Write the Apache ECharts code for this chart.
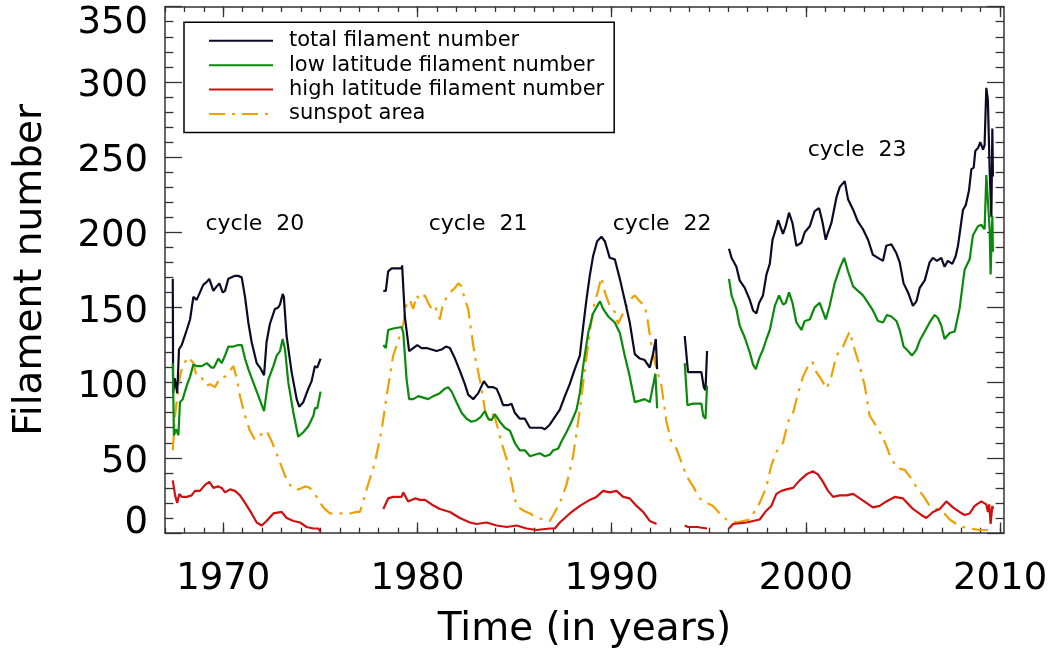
<!DOCTYPE html>
<html>
<head>
<meta charset="utf-8">
<script src="https://cdn.jsdelivr.net/npm/echarts@6/dist/echarts.min.js"></script>
<style>
html,body{margin:0;padding:0;background:#fff;}
#chart{width:1054px;height:654px;}
</style>
</head>
<body>
<div id="chart"></div>
<script>
// ---------- data (year, value); null marks a data gap ----------
const totalFil = [
[1967.40,169],[1967.42,93],[1967.50,103],[1967.57,103],[1967.63,93],[1967.72,122],[1967.86,125],[1967.94,124],[1968.12,135],[1968.29,142],[1968.46,157],[1968.63,155],[1968.80,160],[1968.97,165],[1969.15,167],[1969.28,169],[1969.49,161],[1969.66,164],[1969.80,166],[1969.97,160],[1970.09,161],[1970.26,169],[1970.43,170],[1970.60,171],[1970.77,171],[1970.95,170],[1971.12,157],[1971.29,140],[1971.46,127],[1971.72,113],[1971.89,110],[1972.10,105],[1972.23,127],[1972.40,139],[1972.66,149],[1972.83,150],[1972.92,152],[1973.06,159],[1973.12,157],[1973.26,131],[1973.52,107],[1973.78,89],[1973.91,84],[1974.12,87],[1974.38,96],[1974.55,101],[1974.72,111],[1974.84,110],[1975.01,116],
[1976.5,null],
[1978.24,161],[1978.37,161],[1978.49,174],[1978.67,176],[1978.92,176],[1979.18,176],[1979.21,178],[1979.35,144],[1979.57,121],[1979.78,123],[1979.99,125],[1980.21,123],[1980.47,123],[1980.73,122],[1980.98,121],[1981.24,122],[1981.46,124],[1981.67,123],[1981.93,116],[1982.18,108],[1982.44,99],[1982.61,92],[1982.87,89],[1983.13,93],[1983.42,101],[1983.64,97],[1983.90,97],[1984.07,96],[1984.24,91],[1984.41,85],[1984.67,85],[1984.84,86],[1985.01,80],[1985.27,76],[1985.53,76],[1985.79,70],[1986.13,70],[1986.39,70],[1986.56,69],[1986.81,72],[1987.07,77],[1987.33,82],[1987.59,91],[1987.84,99],[1988.10,109],[1988.36,118],[1988.53,137],[1988.70,155],[1988.87,171],[1989.04,184],[1989.25,194],[1989.47,197],[1989.65,194],[1989.90,183],[1990.16,182],[1990.42,169],[1990.67,155],[1990.93,140],[1991.19,119],[1991.45,116],[1991.70,115],[1991.96,110],[1992.13,119],[1992.27,129],[1992.34,109],
[1993.0,null],
[1993.76,131],[1993.93,107],[1994.20,107],[1994.62,107],[1994.74,97],[1994.83,95],[1994.91,121],
[1995.5,null],
[1996.04,189],[1996.17,183],[1996.25,184],[1996.42,177],[1996.59,168],[1996.85,163],[1997.11,155],[1997.28,148],[1997.45,146],[1997.59,153],[1997.79,158],[1997.97,172],[1998.14,179],[1998.28,195],[1998.45,202],[1998.57,208],[1998.66,207],[1998.82,199],[1998.96,204],[1999.13,213],[1999.31,206],[1999.51,191],[1999.77,193],[1999.94,200],[2000.20,204],[2000.45,214],[2000.68,216],[2000.85,207],[2001.02,195],[2001.14,200],[2001.31,206],[2001.57,223],[2001.74,230],[2002.00,234],[2002.17,222],[2002.43,215],[2002.68,207],[2002.94,202],[2003.20,195],[2003.45,185],[2003.71,183],[2003.97,181],[2004.14,191],[2004.40,192],[2004.66,186],[2004.83,180],[2005.03,166],[2005.26,160],[2005.51,151],[2005.69,154],[2005.86,163],[2006.12,168],[2006.37,180],[2006.54,183],[2006.75,181],[2006.97,183],[2007.14,177],[2007.31,181],[2007.54,179],[2007.71,184],[2007.83,191],[2007.97,204],[2008.09,215],[2008.23,218],[2008.40,228],[2008.52,242],[2008.64,243],[2008.72,254],[2008.86,256],[2008.98,260],[2009.12,255],[2009.20,258],[2009.29,296],[2009.37,288],[2009.46,242],[2009.55,210],[2009.60,269],[2009.63,237]
];

const lowLatFil = [
[1967.40,113],[1967.46,65],[1967.57,69],[1967.69,65],[1967.77,87],[1967.91,89],[1968.12,98],[1968.29,104],[1968.46,112],[1968.63,111],[1968.89,111],[1969.15,113],[1969.40,110],[1969.52,110],[1969.75,116],[1969.92,113],[1970.09,118],[1970.26,124],[1970.52,124],[1970.77,125],[1970.95,125],[1971.12,116],[1971.29,109],[1971.55,100],[1971.81,91],[1972.10,81],[1972.32,102],[1972.58,111],[1972.75,118],[1972.92,121],[1973.06,129],[1973.18,122],[1973.35,100],[1973.61,80],[1973.86,64],[1974.12,67],[1974.38,71],[1974.64,78],[1974.72,83],[1974.84,83],[1975.01,94],
[1976.5,null],
[1978.24,125],[1978.37,123],[1978.49,135],[1978.75,136],[1979.18,137],[1979.27,133],[1979.44,102],[1979.57,89],[1979.78,89],[1980.04,91],[1980.30,90],[1980.55,89],[1980.81,91],[1981.15,93],[1981.41,96],[1981.58,97],[1981.76,94],[1982.01,87],[1982.27,80],[1982.53,76],[1982.78,74],[1983.04,75],[1983.25,77],[1983.47,81],[1983.64,76],[1983.81,75],[1983.98,79],[1984.24,74],[1984.50,70],[1984.76,68],[1985.01,60],[1985.27,55],[1985.53,55],[1985.79,51],[1986.04,52],[1986.30,53],[1986.56,51],[1986.81,52],[1986.99,55],[1987.24,56],[1987.42,61],[1987.67,67],[1987.93,74],[1988.19,82],[1988.36,93],[1988.53,111],[1988.79,133],[1989.04,146],[1989.30,152],[1989.40,154],[1989.56,149],[1989.82,144],[1990.16,140],[1990.42,133],[1990.67,118],[1990.93,104],[1991.19,87],[1991.45,88],[1991.70,89],[1991.96,87],[1992.13,98],[1992.25,106],[1992.34,83],
[1993.0,null],
[1993.76,113],[1993.90,85],[1994.20,86],[1994.62,86],[1994.71,78],[1994.83,76],[1994.91,98],
[1995.5,null],
[1996.04,169],[1996.17,158],[1996.25,157],[1996.42,149],[1996.59,138],[1996.85,130],[1997.11,120],[1997.28,112],[1997.42,109],[1997.59,116],[1997.79,122],[1997.97,129],[1998.14,135],[1998.40,151],[1998.62,158],[1998.82,152],[1998.96,153],[1999.13,160],[1999.31,153],[1999.51,140],[1999.77,135],[1999.94,141],[2000.20,142],[2000.45,150],[2000.71,153],[2000.88,147],[2001.02,142],[2001.22,151],[2001.48,166],[2001.74,176],[2001.97,183],[2002.17,174],[2002.43,164],[2002.68,161],[2002.94,158],[2003.20,153],[2003.45,148],[2003.71,141],[2003.97,140],[2004.17,145],[2004.40,144],[2004.66,141],[2004.83,135],[2005.03,124],[2005.26,121],[2005.46,118],[2005.69,122],[2005.86,128],[2006.12,134],[2006.37,140],[2006.63,145],[2006.80,143],[2006.97,138],[2007.14,129],[2007.40,133],[2007.66,134],[2007.91,149],[2008.17,175],[2008.43,182],[2008.60,198],[2008.86,204],[2009.03,205],[2009.20,202],[2009.29,238],[2009.37,238],[2009.46,202],[2009.51,172],[2009.60,211],[2009.63,187]
];

const highLatFil = [
[1967.40,35],[1967.52,25],[1967.63,20],[1967.74,26],[1967.86,24],[1968.12,24],[1968.37,25],[1968.54,28],[1968.80,28],[1969.06,32],[1969.28,34],[1969.49,30],[1969.75,31],[1969.92,30],[1970.09,27],[1970.35,29],[1970.60,28],[1970.86,25],[1971.12,20],[1971.46,13],[1971.72,7],[1971.98,5],[1972.23,8],[1972.58,13],[1973.01,14],[1973.26,10],[1973.61,8],[1973.95,7],[1974.29,4],[1974.64,3],[1974.89,3],[1975.01,1],
[1976.5,null],
[1978.24,16],[1978.49,23],[1978.75,24],[1979.18,24],[1979.27,27],[1979.52,21],[1979.87,23],[1980.13,22],[1980.38,22],[1980.73,19],[1981.15,16],[1981.67,14],[1982.18,10],[1982.70,7],[1983.04,6],[1983.56,7],[1984.07,5],[1984.59,4],[1985.10,5],[1985.62,3],[1986.13,2],[1986.81,3],[1987.07,3],[1987.33,7],[1987.84,13],[1988.36,18],[1988.87,22],[1989.21,24],[1989.56,28],[1989.90,27],[1990.25,28],[1990.59,24],[1990.93,23],[1991.28,18],[1991.62,14],[1991.96,8],[1992.31,6],
[1993.0,null],
[1993.76,5],[1993.93,4],[1994.40,4],[1994.91,3],
[1995.5,null],
[1996.04,3],[1996.25,6],[1996.94,7],[1997.62,9],[1997.97,15],[1998.22,18],[1998.48,26],[1998.74,28],[1999.00,29],[1999.34,30],[1999.68,35],[2000.03,39],[2000.37,41],[2000.62,39],[2000.88,34],[2001.14,28],[2001.40,24],[2001.74,25],[2002.08,25],[2002.43,26],[2002.77,23],[2003.11,20],[2003.45,17],[2003.80,18],[2004.14,21],[2004.57,24],[2005.00,23],[2005.51,16],[2005.94,12],[2006.20,10],[2006.54,14],[2006.89,16],[2007.23,21],[2007.57,17],[2007.91,14],[2008.17,12],[2008.43,13],[2008.69,18],[2009.03,21],[2009.29,19],[2009.37,14],[2009.44,19],[2009.51,6],[2009.60,18],[2009.63,16]
];

const sunspotArea = [
[1967.40,55],[1967.52,78],[1967.69,98],[1967.80,106],[1967.94,112],[1968.20,117],[1968.46,113],[1968.63,104],[1968.89,103],[1969.15,98],[1969.32,99],[1969.57,97],[1969.83,103],[1970.09,104],[1970.35,108],[1970.52,111],[1970.69,103],[1970.86,91],[1971.12,78],[1971.37,68],[1971.63,62],[1971.89,65],[1972.23,68],[1972.49,61],[1972.83,50],[1973.18,38],[1973.52,30],[1973.86,29],[1974.21,31],[1974.46,30],[1974.81,24],[1975.15,17],[1975.49,13],[1976.01,13],[1976.52,13],[1976.87,14],[1977.04,14],[1977.38,29],[1977.81,47],[1978.15,68],[1978.41,91],[1978.75,118],[1979.09,131],[1979.27,139],[1979.44,153],[1979.61,155],[1979.78,149],[1979.95,158],[1980.12,155],[1980.38,158],[1980.55,153],[1980.73,149],[1980.90,151],[1981.15,142],[1981.32,153],[1981.58,158],[1981.76,161],[1981.93,163],[1982.10,166],[1982.27,164],[1982.44,155],[1982.61,149],[1982.78,133],[1982.95,118],[1983.13,107],[1983.30,96],[1983.47,82],[1983.64,74],[1983.81,80],[1983.98,77],[1984.15,69],[1984.33,60],[1984.59,49],[1984.84,34],[1985.10,18],[1985.44,15],[1985.79,13],[1986.13,10],[1986.56,9],[1986.81,8],[1986.99,12],[1987.33,20],[1987.67,32],[1988.01,51],[1988.36,82],[1988.62,109],[1988.87,133],[1989.04,149],[1989.25,159],[1989.47,170],[1989.65,160],[1989.90,151],[1990.16,147],[1990.33,139],[1990.50,144],[1990.76,151],[1991.02,156],[1991.19,158],[1991.45,154],[1991.70,151],[1991.87,140],[1992.05,124],[1992.31,109],[1992.56,98],[1992.82,74],[1993.08,60],[1993.34,56],[1993.59,47],[1993.85,38],[1994.19,31],[1994.53,23],[1994.88,20],[1995.22,18],[1995.56,13],[1995.91,9],[1996.42,7],[1997.11,9],[1997.62,20],[1997.97,31],[1998.22,45],[1998.48,54],[1998.82,60],[1999.08,74],[1999.34,80],[1999.60,93],[1999.85,104],[2000.11,111],[2000.33,114],[2000.54,107],[2000.80,102],[2001.06,96],[2001.31,104],[2001.57,118],[2001.91,124],[2002.25,134],[2002.51,122],[2002.77,111],[2003.03,98],[2003.28,78],[2003.63,71],[2003.89,65],[2004.14,58],[2004.40,49],[2004.74,43],[2005.09,42],[2005.43,36],[2005.77,29],[2006.03,25],[2006.37,18],[2006.72,16],[2007.06,14],[2007.40,9],[2007.75,6],[2008.09,4],[2008.43,3],[2008.95,2],[2009.46,2]
];

const seriesNames = ['total filament number','low latitude filament number','high latitude filament number','sunspot area'];
const xTickLabels = [1970,1980,1990,2000,2010];
const xMinorTicks = [];
for (let y = 1967; y <= 2010; y++) xMinorTicks.push(y);
const cycleLabels = [
  {name:'cycle  20', value:[1971.63,205]},
  {name:'cycle  21', value:[1983.12,205]},
  {name:'cycle  22', value:[1992.60,205]},
  {name:'cycle  23', value:[2002.64,254.8]}
];

// ---------- styling ----------
const FONT = 'DejaVu Sans';
const AX = '#333';
const X_MIN = 1967, X_MAX = 2010.2;

function xAxisDef(pos, major, withLabel) {
  return {
    type:'value', min:X_MIN, max:X_MAX, position:pos,
    axisLine:{show:major, onZero:false, lineStyle:{color:AX, width:1.5}},
    axisTick:{show:true, inside:true, length: major ? 10.5 : 5.3,
              customValues: major ? xTickLabels : xMinorTicks,
              lineStyle:{color:AX, width:1.3}},
    axisLabel: withLabel ? {show:true, customValues:xTickLabels, fontFamily:FONT, fontSize:37,
              color:'#000', margin:28, formatter: v => String(v)} : {show:false},
    splitLine:{show:false},
    name: withLabel ? 'Time (in years)' : '',
    nameLocation:'middle', nameGap:77,
    nameTextStyle:{fontFamily:FONT, fontSize:39, color:'#000'}
  };
}
function yAxisDef(pos, withLabel) {
  const lab = {fontFamily:FONT, fontSize:37, color:'#000'};
  return {
    type:'value', min:0, max:350, interval:50, position:pos,
    axisLine:{show:true, onZero:false, lineStyle:{color:AX, width:1.5}},
    axisTick:{show:true, inside:true, length:17, lineStyle:{color:AX, width:1.3}},
    minorTick:{show:true, splitNumber:5, length:8.4, lineStyle:{color:AX, width:1.3}},
    axisLabel: withLabel ? {
      show:true, margin:17,
      formatter: v => v === 0 ? '{b|0}' : (v === 350 ? '{t|350}' : '{n|' + v + '}'),
      rich:{
        n:Object.assign({padding:[9,0,0,0]}, lab),
        t:Object.assign({padding:[34,0,0,0]}, lab),
        b:Object.assign({padding:[0,0,20,0]}, lab)
      }
    } : {show:false},
    splitLine:{show:false},
    name: withLabel ? 'Filament number' : '',
    nameLocation:'middle', nameGap:115, nameRotate:90,
    nameTextStyle:{fontFamily:FONT, fontSize:39, color:'#000'}
  };
}

function lineSeries(name, data, color, type, z) {
  return {
    name, type:'line', data, xAxisIndex:0, yAxisIndex:0,
    symbol:'none', showSymbol:false, connectNulls:false, clip:true,
    lineStyle:{color, width:2.2, type:type},
    itemStyle:{color}, z
  };
}

const option = {
  animation:false,
  backgroundColor:'#fff',
  grid:{left:165, top:6.7, width:839, height:527.3, containLabel:false},
  xAxis:[xAxisDef('bottom', true, true), xAxisDef('bottom', false, false),
         xAxisDef('top', true, false), xAxisDef('top', false, false)],
  yAxis:[yAxisDef('left', true), yAxisDef('right', false)],
  legend:{
    data:seriesNames, orient:'vertical', left:184, top:22.3,
    itemWidth:64, itemHeight:14, itemGap:3.4,
    padding:[8,10,8,24],
    backgroundColor:'#fff', borderColor:'#000', borderWidth:1.5, borderRadius:0,
    itemStyle:{opacity:0},
    textStyle:{fontFamily:FONT, fontSize:21, lineHeight:21, color:'#000', padding:[0,0,0,11]},
    selectedMode:false, z:10
  },
  series:[
    lineSeries(seriesNames[3], sunspotArea, '#f0a000', [16,7,3,7], 2),
    lineSeries(seriesNames[0], totalFil, '#0b0b26', 'solid', 3),
    lineSeries(seriesNames[1], lowLatFil, '#0a8a0a', 'solid', 3),
    lineSeries(seriesNames[2], highLatFil, '#d01010', 'solid', 3),
    {
      type:'scatter', data:cycleLabels, symbolSize:1, silent:true,
      itemStyle:{color:'rgba(0,0,0,0)'},
      label:{show:true, position:'inside', formatter:'{b}', fontFamily:FONT, fontSize:22,
             color:'#000', textBorderWidth:0, opacity:1},
      z:5
    }
  ]
};

const chart = echarts.init(document.getElementById('chart'), null, {renderer:'canvas'});
chart.setOption(option);
</script>
</body>
</html>
